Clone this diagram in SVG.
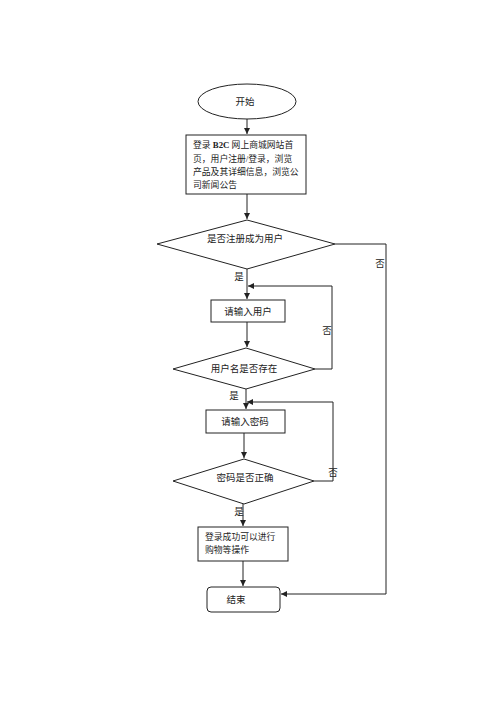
<svg xmlns="http://www.w3.org/2000/svg" width="500" height="708" viewBox="0 0 500 708">
<style>
.s{fill:#fff;stroke:#222;stroke-width:1}
.c{fill:none;stroke:#222;stroke-width:1}
text{font-family:"Liberation Serif","Noto Sans CJK SC",serif;font-size:9.5px;fill:#222}
.b{font-size:8.8px}
.m{text-anchor:middle}
</style>
<defs>
<marker id="a" markerWidth="8" markerHeight="8" refX="6" refY="3" orient="auto" markerUnits="userSpaceOnUse">
<path d="M0,0 L6,3 L0,6 Z" fill="#222"/>
</marker>
</defs>
<rect width="500" height="708" fill="#fff"/>
<g id="connectors">
<line class="c" x1="247" y1="119" x2="247" y2="134" marker-end="url(#a)"/>
<line class="c" x1="247" y1="194" x2="247" y2="219" marker-end="url(#a)"/>
<line class="c" x1="247" y1="269" x2="247" y2="299" marker-end="url(#a)"/>
<line class="c" x1="247" y1="322" x2="247" y2="347" marker-end="url(#a)"/>
<line class="c" x1="246" y1="389" x2="246" y2="409" marker-end="url(#a)"/>
<line class="c" x1="244" y1="433" x2="244" y2="458" marker-end="url(#a)"/>
<line class="c" x1="243" y1="504" x2="243" y2="526" marker-end="url(#a)"/>
<line class="c" x1="243" y1="561" x2="243" y2="586" marker-end="url(#a)"/>
<polyline class="c" points="315,369 332,369 332,286 248,286" marker-end="url(#a)"/>
<polyline class="c" points="314,481 333,481 333,402 247,402" marker-end="url(#a)"/>
<polyline class="c" points="335,244 386,244 386,594 281,594" marker-end="url(#a)"/>
<text x="239" y="280" class="m">是</text>
<text x="380" y="267" class="m">否</text>
<text x="327" y="334" class="m">否</text>
<text x="234" y="399" class="m">是</text>
<text x="333" y="476" class="m">否</text>
<text x="239" y="515" class="m">是</text>
</g>
<g id="start">
<ellipse class="s" cx="247" cy="101.5" rx="49" ry="17.5"/>
<text x="245" y="105" class="m">开始</text>
</g>
<g id="login">
<rect class="s" x="186" y="135" width="120" height="59"/>
<text class="b" x="193" y="148">登录 <tspan font-weight="bold">B2C</tspan> 网上商城网站首</text>
<text class="b" x="193" y="162">页，用户注册/登录，浏览</text>
<text class="b" x="193" y="175">产品及其详细信息，浏览公</text>
<text class="b" x="193" y="188">司新闻公告</text>
</g>
<g id="d1">
<polygon class="s" points="247,220 335,244 247,269 157,244"/>
<text x="245" y="242" class="m">是否注册成为用户</text>
</g>
<g id="inputUser">
<rect class="s" x="211" y="300" width="74" height="22"/>
<text x="248" y="314.5" class="m">请输入用户</text>
</g>
<g id="d2">
<polygon class="s" points="246,348 315,369 246,389 173,369"/>
<text x="244" y="372" class="m">用户名是否存在</text>
</g>
<g id="inputPwd">
<rect class="s" x="206" y="410" width="79" height="23"/>
<text x="245" y="425" class="m">请输入密码</text>
</g>
<g id="d3">
<polygon class="s" points="244,459 314,481 244,504 173,481"/>
<text x="245" y="481" class="m">密码是否正确</text>
</g>
<g id="success">
<rect class="s" x="198" y="527" width="90" height="34"/>
<text class="b" x="205" y="540">登录成功可以进行</text>
<text class="b" x="205" y="553">购物等操作</text>
</g>
<g id="end">
<rect class="s" x="207" y="587" width="73" height="25" rx="4"/>
<text x="236" y="602.5" class="m">结束</text>
</g>
</svg>
